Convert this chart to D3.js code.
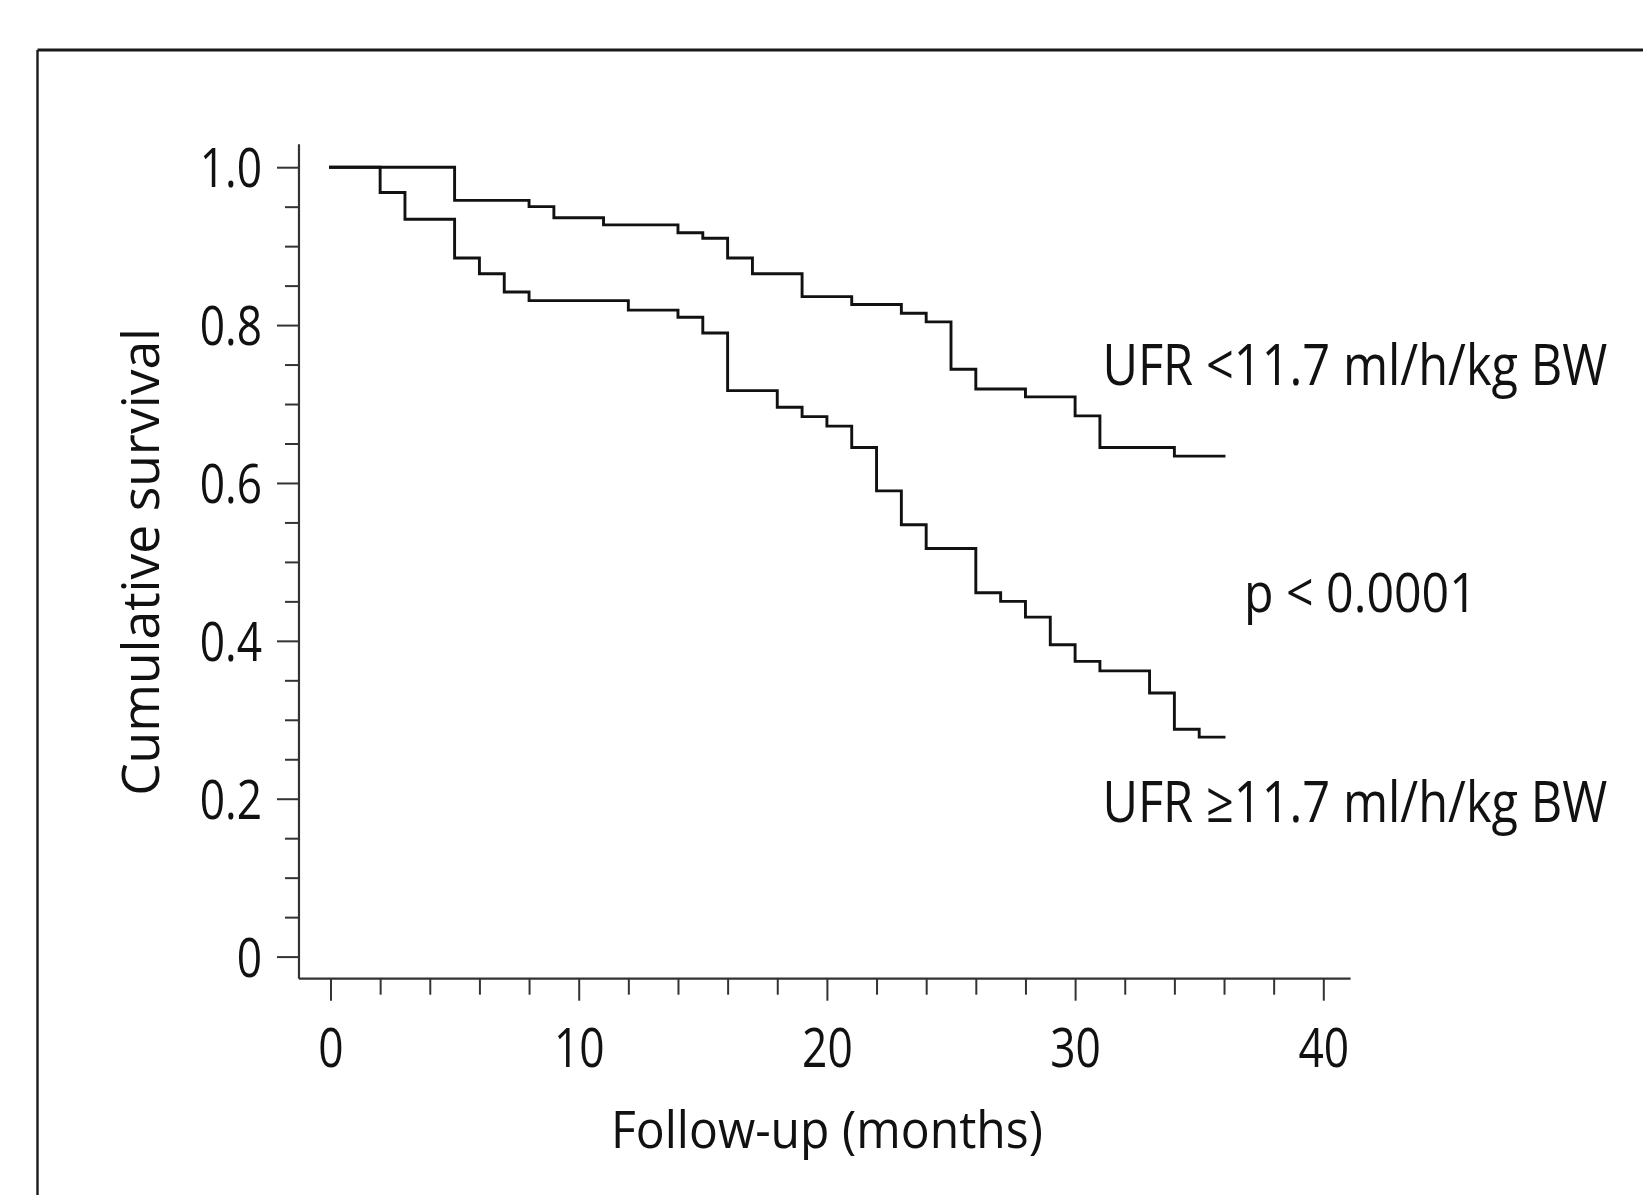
<!DOCTYPE html>
<html>
<head>
<meta charset="utf-8">
<script src="https://cdn.jsdelivr.net/npm/d3@7"></script>
<style>
  html, body { margin: 0; padding: 0; background: #fff; }
  svg { display: block; }
  text { font-family: "Open Sans", "Noto Sans", sans-serif; fill: #111; }
</style>
</head>
<body>
<svg id="chart" width="1643" height="1195"></svg>
<script>
// Kaplan–Meier survival by ultrafiltration rate group (step times in months)
const lowUfrTimes    = [0, 5, 8, 9, 11, 14, 15, 16, 17, 19, 21, 23, 24, 25, 26, 28, 30, 31, 34, 36];
const lowUfrSurvival = [1.000, 0.958, 0.950, 0.936, 0.927, 0.917, 0.910, 0.885, 0.865, 0.836,
                        0.826, 0.815, 0.804, 0.744, 0.719, 0.709, 0.685, 0.645, 0.634, 0.634];

const highUfrTimes    = [0, 2, 3, 5, 6, 7, 8, 12, 14, 15, 16, 18, 19, 20, 21, 22, 23, 24,
                         26, 27, 28, 29, 30, 31, 33, 34, 35, 36];
const highUfrSurvival = [1.000, 0.968, 0.934, 0.885, 0.865, 0.842, 0.831, 0.819, 0.810, 0.790,
                         0.717, 0.696, 0.684, 0.672, 0.645, 0.590, 0.547, 0.517, 0.461, 0.450,
                         0.430, 0.395, 0.374, 0.362, 0.334, 0.288, 0.278, 0.278];

const yMajorTicks = [0, 0.2, 0.4, 0.6, 0.8, 1.0];
const yMinorTicks = [0.05, 0.1, 0.15, 0.25, 0.3, 0.35, 0.45, 0.5, 0.55, 0.65, 0.7, 0.75, 0.85, 0.9, 0.95];
const xMajorTicks = [0, 10, 20, 30, 40];
const xMinorTicks = [2, 4, 6, 8, 12, 14, 16, 18, 22, 24, 26, 28, 32, 34, 36, 38];

const seriesLabels = ["UFR <11.7 ml/h/kg BW", "UFR \u226511.7 ml/h/kg BW"];
const pValueLabel = "p < 0.0001";
const xTitle = "Follow-up (months)";
const yTitle = "Cumulative survival";

const svg = d3.select("#chart");

const x = d3.scaleLinear().domain([0, 40]).range([330.5, 1323.3]);
const y = d3.scaleLinear().domain([0, 1]).range([956.6, 167.2]);

const ink = "#111";
const axisInk = "#333";

// outer panel frame (top and left edges visible)
svg.append("line").attr("x1", 37.5).attr("x2", 1643).attr("y1", 50).attr("y2", 50)
  .attr("stroke", "#1a1a1a").attr("stroke-width", 3.2);
svg.append("line").attr("x1", 37.5).attr("x2", 37.5).attr("y1", 50).attr("y2", 1195)
  .attr("stroke", "#1a1a1a").attr("stroke-width", 2.4);

// axis lines
const xAxisY = y(-0.028);
const yAxisX = x(-1.27);
svg.append("line").attr("x1", yAxisX).attr("x2", yAxisX).attr("y1", y(1.029)).attr("y2", xAxisY)
  .attr("stroke", axisInk).attr("stroke-width", 2.2);
svg.append("line").attr("x1", yAxisX).attr("x2", x(41.1)).attr("y1", xAxisY).attr("y2", xAxisY)
  .attr("stroke", axisInk).attr("stroke-width", 2.2);

const fontSize = 54;

// y axis ticks
const yMajor = svg.append("g").attr("transform", `translate(${yAxisX},0)`)
  .call(d3.axisLeft(y).tickValues(yMajorTicks).tickSize(22).tickPadding(15)
    .tickFormat(d => d === 0 ? "0" : d3.format(".1f")(d)));
const yMinor = svg.append("g").attr("transform", `translate(${yAxisX},0)`)
  .call(d3.axisLeft(y).tickValues(yMinorTicks).tickSize(14).tickFormat(""));

// x axis ticks
const xMajor = svg.append("g").attr("transform", `translate(0,${xAxisY})`)
  .call(d3.axisBottom(x).tickValues(xMajorTicks).tickSize(22).tickPadding(27).tickFormat(d3.format("d")));
const xMinor = svg.append("g").attr("transform", `translate(0,${xAxisY})`)
  .call(d3.axisBottom(x).tickValues(xMinorTicks).tickSize(16).tickFormat(""));

[yMajor, yMinor, xMajor, xMinor].forEach(g => {
  g.select(".domain").remove();
  g.selectAll(".tick line").attr("stroke", axisInk).attr("stroke-width", 2);
  g.selectAll(".tick text").attr("font-size", fontSize).attr("fill", ink)
    .attr("font-family", '"Open Sans", "Noto Sans", sans-serif');
});
yMajor.selectAll(".tick text").attr("dy", "0.36em");
xMajor.selectAll(".tick text").attr("dy", "0.72em");

// narrow the tick numerals
[yMajor, xMajor].forEach(g => {
  g.selectAll(".tick text").each(function () {
    const w = this.getComputedTextLength();
    d3.select(this).attr("textLength", w * 0.82).attr("lengthAdjust", "spacingAndGlyphs");
  });
});

// survival curves
const step = d3.line().x(d => x(d[0])).y(d => y(d[1])).curve(d3.curveStepAfter);
const curves = [
  d3.zip(lowUfrTimes, lowUfrSurvival),
  d3.zip(highUfrTimes, highUfrSurvival)
];
svg.append("g").selectAll("path").data(curves).join("path")
  .attr("d", step)
  .attr("fill", "none")
  .attr("stroke", ink)
  .attr("stroke-width", 2.9)
  .attr("stroke-linejoin", "miter")
  .attr("stroke-linecap", "square");

// text squeezed horizontally to a target width, anchored at (px, py)
function fittedText(px, py, size, str, width, anchor, rotate) {
  const g = svg.append("g");
  const t = g.append("text").attr("font-size", size).attr("text-anchor", anchor || "start").text(str);
  const sx = width / t.node().getComputedTextLength();
  g.attr("transform", `translate(${px},${py})` + (rotate ? ` rotate(${rotate})` : "") + ` scale(${sx},1)`);
  return t;
}

fittedText(x(31.1), y(0.7245), 56, seriesLabels[0], 505);
fittedText(x(31.1), y(0.1705), 56, seriesLabels[1], 505);
fittedText(x(36.8), y(0.436), 54, pValueLabel, 233);

// axis titles
fittedText(x(20), 1147.5, 52, xTitle, 432, "middle");
fittedText(158.5, y(0.5), 52, yTitle, 468, "middle", -90);
</script>
</body>
</html>
